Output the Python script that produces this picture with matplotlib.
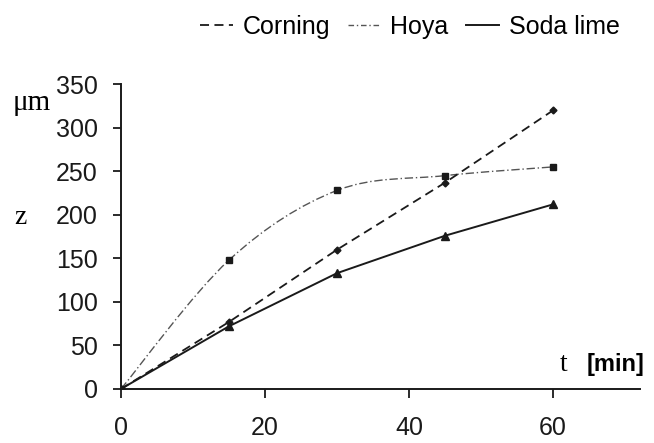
import numpy as np
import matplotlib.pyplot as plt
from matplotlib.path import Path
from matplotlib.patches import PathPatch

plt.rcParams['font.family'] = ['Liberation Sans', 'DejaVu Sans']

t = [0, 15, 30, 45, 60]
corning = [0, 77, 160, 237, 320]
hoya = [0, 148, 228, 245, 255]
soda = [0, 72, 133, 176, 212]


def smooth_path(x, y):
    # Catmull-Rom through the points, written as cubic bezier segments
    p = np.column_stack([x, y]).astype(float)
    ext = np.vstack([p[0], p, p[-1]])
    verts = [p[0]]
    codes = [Path.MOVETO]
    for i in range(1, len(ext) - 2):
        c1 = ext[i] + (ext[i + 1] - ext[i - 1]) / 6
        c2 = ext[i + 1] - (ext[i + 2] - ext[i]) / 6
        verts += [c1, c2, ext[i + 1]]
        codes += [Path.CURVE4] * 3
    return Path(verts, codes)


fig = plt.figure(figsize=(6.54, 4.43), dpi=100)
ax = fig.add_axes([0.185, 0.122, 0.793, 0.688])

l1, = ax.plot(t, corning, color='#1a1a1a', lw=1.3, dashes=(5, 3),
              marker='D', ms=3.5, label='Corning')
hp = PathPatch(smooth_path(t, hoya), fill=False, edgecolor='#555555', lw=1.0,
               linestyle=(0, (6, 2, 1, 2)))
ax.add_patch(hp)
ax.plot(t, hoya, ls='none', marker='s', ms=4.5, color='#1a1a1a')
l2, = ax.plot([], [], color='#555555', lw=1.0, linestyle=(0, (4, 2, 1, 2)), label='Hoya')
l3, = ax.plot(t, soda, color='#1a1a1a', lw=1.4, marker='^', ms=5.5, label='Soda lime')

ax.set_xlim(0, 72)
ax.set_ylim(0, 350)
ax.set_xticks([0, 20, 40, 60])
ax.set_yticks(range(0, 351, 50))
for s in ['top', 'right']:
    ax.spines[s].set_visible(False)
for s in ['left', 'bottom']:
    ax.spines[s].set_linewidth(1.4)
    ax.spines[s].set_color('#1a1a1a')
ax.tick_params(axis='x', length=6.5, width=1.3, pad=13, labelsize=18, color='#1a1a1a',
               labelcolor='#1a1a1a')
ax.tick_params(axis='y', length=5.8, width=1.3, pad=11, labelsize=18, color='#1a1a1a',
               labelcolor='#1a1a1a')

fig.text(0.049, 0.767, 'μm', family='Liberation Serif', fontsize=21, ha='center', va='center')
fig.text(0.031, 0.51, 'z', family='Liberation Serif', fontsize=20, ha='center', va='center')
fig.text(0.856, 0.178, 't', family='Liberation Serif', fontsize=20, ha='left', va='center')
fig.text(0.897, 0.178, '[min]', fontsize=17, weight='bold', ha='left', va='center')

fig.legend(handles=[l1, l2, l3], loc='center', bbox_to_anchor=(0.627, 0.94), ncol=3,
           frameon=False, fontsize=18, handlelength=1.3, handletextpad=0.4,
           columnspacing=0.7)
for h in fig.legends[0].legend_handles:
    h.set_marker('')

fig.savefig('out.png', dpi=100)
